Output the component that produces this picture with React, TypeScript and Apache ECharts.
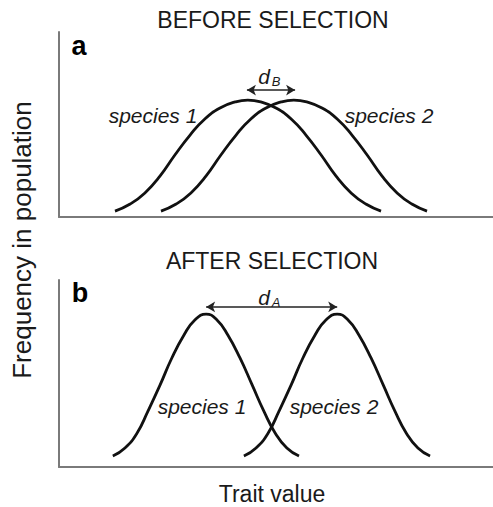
import React, { useEffect, useRef } from "react";
import * as echarts from "echarts";

// Panel a (before selection): trait positions (0-100) and frequency heights (0-100)
const traitA1 = [12.9, 16.4, 19.8, 23.3, 26.7, 30.2, 33.6, 37.1, 40.6, 43.5, 46.5, 50.0, 53.5, 56.9, 60.4, 63.8, 67.3, 70.7, 74.2];
const traitA2 = [23.5, 27.0, 30.4, 33.9, 37.3, 40.8, 44.2, 47.7, 51.2, 54.1, 57.1, 60.6, 64.1, 67.5, 71.0, 74.4, 77.9, 81.3, 84.8];
const freqA = [3.2, 7.0, 13.0, 22.2, 33.5, 44.3, 53.0, 58.9, 62.2, 63.2, 62.2, 58.9, 53.0, 44.3, 33.5, 22.2, 13.0, 7.0, 3.2];

// Panel b (after selection)
const traitB1 = [12.4, 15.2, 18.0, 20.5, 23.3, 26.0, 28.8, 31.3, 33.9, 36.4, 38.9, 41.7, 44.5, 47.2, 49.8, 52.5, 55.3];
const traitB2 = [42.6, 45.4, 48.2, 50.7, 53.5, 56.2, 59.0, 61.5, 64.1, 66.6, 69.1, 71.9, 74.7, 77.4, 80.0, 82.7, 85.5];
const freqB = [5.9, 10.2, 18.2, 29.9, 43.9, 58.3, 70.6, 78.6, 81.8, 78.6, 70.6, 58.3, 43.9, 29.9, 18.2, 10.2, 5.9];

// Distance arrows between the peaks: [x start, x end, y]
const arrowA = [43.3, 54.4, 68.6];
const arrowB = [33.9, 64.1, 85.6];

const FONT = '"Liberation Sans", Arial, Helvetica, sans-serif';

function zip(xs: number[], ys: number[]) {
  return xs.map((x, i) => [x, ys[i]]);
}

function txt(text: string, x: number, y: number, size: number, opts: any = {}) {
  return {
    type: "text",
    x,
    y,
    rotation: opts.rotation || 0,
    style: {
      text,
      fontSize: size,
      fontFamily: FONT,
      fontStyle: opts.italic ? "italic" : "normal",
      fontWeight: opts.bold ? "bold" : "normal",
      fill: opts.fill || "#1a1a1a",
      textAlign: opts.align || "center",
      textVerticalAlign: "middle",
    },
  };
}

export default function App() {
  const ref = useRef<HTMLDivElement>(null);
  useEffect(() => {
    if (!ref.current) return;
    const chart = echarts.init(ref.current, null, { renderer: "svg" });
    const axisLine = { show: true, onZero: false, lineStyle: { color: "#7a7a7a", width: 2 } };
    const hiddenAxis = {
      type: "value" as const,
      min: 0,
      max: 100,
      axisLine,
      axisTick: { show: false },
      axisLabel: { show: false },
      splitLine: { show: false },
    };
    const curveStyle = { color: "#111", width: 2.8 };
    const arrowLine = (a: number[]) => ({
      silent: true,
      symbol: ["arrow", "arrow"],
      symbolSize: [8, 9],
      label: { show: false },
      lineStyle: { color: "#222", width: 1.5, type: "solid" },
      data: [[{ coord: [a[0], a[2]] }, { coord: [a[1], a[2]] }]],
    });
    chart.setOption({
      animation: false,
      grid: [
        { left: 59, top: 32, width: 440, height: 185 },
        { left: 59, top: 280, width: 440, height: 187 },
      ],
      xAxis: [
        { ...hiddenAxis, gridIndex: 0 },
        { ...hiddenAxis, gridIndex: 1 },
      ],
      yAxis: [
        { ...hiddenAxis, gridIndex: 0 },
        { ...hiddenAxis, gridIndex: 1 },
      ],
      series: [
        {
          type: "line", xAxisIndex: 0, yAxisIndex: 0, smooth: true, symbol: "none",
          lineStyle: curveStyle, data: zip(traitA1, freqA), markLine: arrowLine(arrowA),
        },
        {
          type: "line", xAxisIndex: 0, yAxisIndex: 0, smooth: true, symbol: "none",
          lineStyle: curveStyle, data: zip(traitA2, freqA),
        },
        {
          type: "line", xAxisIndex: 1, yAxisIndex: 1, smooth: true, symbol: "none",
          lineStyle: curveStyle, data: zip(traitB1, freqB), markLine: arrowLine(arrowB),
        },
        {
          type: "line", xAxisIndex: 1, yAxisIndex: 1, smooth: true, symbol: "none",
          lineStyle: curveStyle, data: zip(traitB2, freqB),
        },
      ],
      graphic: [
        txt("BEFORE SELECTION", 273, 20, 23),
        txt("AFTER SELECTION", 272, 261, 23),
        txt("a", 79, 46, 27, { bold: true, fill: "#000" }),
        txt("b", 80, 293, 27, { bold: true, fill: "#000" }),
        txt("species 1", 153, 115, 21, { italic: true }),
        txt("species 2", 389, 115, 21, { italic: true }),
        txt("species 1", 202, 406, 21, { italic: true }),
        txt("species 2", 334, 406, 21, { italic: true }),
        txt("d", 264, 76, 21, { italic: true }),
        txt("B", 276, 81, 13, { italic: true }),
        txt("d", 264, 297, 21, { italic: true }),
        txt("A", 276, 302, 13, { italic: true }),
        txt("Trait value", 272, 494, 23),
        txt("Frequency in population", 22, 240, 26, { rotation: Math.PI / 2 }),
      ],
    });
    return () => chart.dispose();
  }, []);
  return (
    <div
      ref={ref}
      style={{ position: "fixed", left: 0, top: 0, width: 493, height: 507, background: "#fff" }}
    />
  );
}
